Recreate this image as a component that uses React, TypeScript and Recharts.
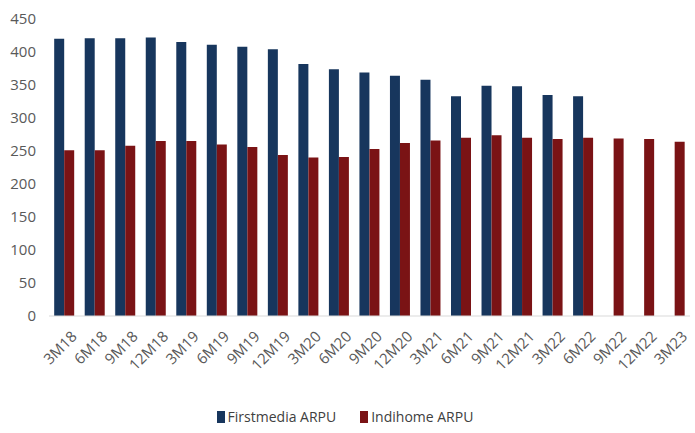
import React from 'react';
import { BarChart, Bar, XAxis, YAxis, Legend } from 'recharts';

const periods = [
  '3M18', '6M18', '9M18', '12M18', '3M19', '6M19', '9M19', '12M19', '3M20', '6M20', '9M20',
  '12M20', '3M21', '6M21', '9M21', '12M21', '3M22', '6M22', '9M22', '12M22', '3M23',
];
const firstmedia = [
  420, 421, 421, 422, 415, 411, 408, 404, 382, 374, 369,
  364, 358, 333, 349, 348, 335, 333, null, null, null,
];
const indihome = [
  251, 251, 258, 265, 265, 260, 256, 244, 240, 241, 253,
  262, 266, 270, 274, 270, 268, 270, 269, 268, 264,
];
const yTicks = [0, 50, 100, 150, 200, 250, 300, 350, 400, 450];

const data = periods.map((p, i) => ({
  period: p,
  firstmedia: firstmedia[i],
  indihome: indihome[i],
}));

const FONT = '"Liberation Sans Narrow", "Open Sans", "Liberation Sans", Arial, sans-serif';
const BLUE = '#17365d';
const RED = '#7a1315';

const LegendContent = () => {
  const items = [
    { label: 'Firstmedia ARPU', color: BLUE },
    { label: 'Indihome ARPU', color: RED },
  ];
  return (
    <div
      style={{
        display: 'flex',
        justifyContent: 'center',
        fontFamily: FONT,
        fontSize: 14,
        color: '#404040',
        lineHeight: '16px',
      }}
    >
      {items.map((it) => (
        <div key={it.label} style={{ display: 'flex', alignItems: 'center', margin: '0 12px' }}>
          <span style={{ display: 'inline-block', width: 8, height: 12, background: it.color, marginRight: 3 }} />
          <span>{it.label}</span>
        </div>
      ))}
    </div>
  );
};

export default function App() {
  return (
    <div style={{ position: 'absolute', left: 0, top: 0, background: '#fff' }}>
      <BarChart
        width={695}
        height={433}
        data={data}
        margin={{ top: 19, right: 5, bottom: 8, left: 0 }}
        barCategoryGap="17%"
        barGap={0}
      >
        <XAxis
          dataKey="period"
          axisLine={{ stroke: '#d9d9d9' }}
          tickLine={false}
          tick={{ angle: -45, textAnchor: 'end', fontSize: 15, fill: '#595959', fontFamily: FONT, dx: 6, dy: 2 } as any}
          tickMargin={6}
          interval={0}
          height={93}
        />
        <YAxis
          domain={[0, 450]}
          ticks={yTicks}
          axisLine={false}
          tickLine={false}
          width={49}
          tickMargin={7}
          tick={{ fontSize: 15, fill: '#595959', fontFamily: FONT }}
        />
        <Legend verticalAlign="bottom" height={16} content={<LegendContent />} />
        <Bar dataKey="firstmedia" name="Firstmedia ARPU" fill={BLUE} isAnimationActive={false} />
        <Bar dataKey="indihome" name="Indihome ARPU" fill={RED} isAnimationActive={false} />
      </BarChart>
    </div>
  );
}
